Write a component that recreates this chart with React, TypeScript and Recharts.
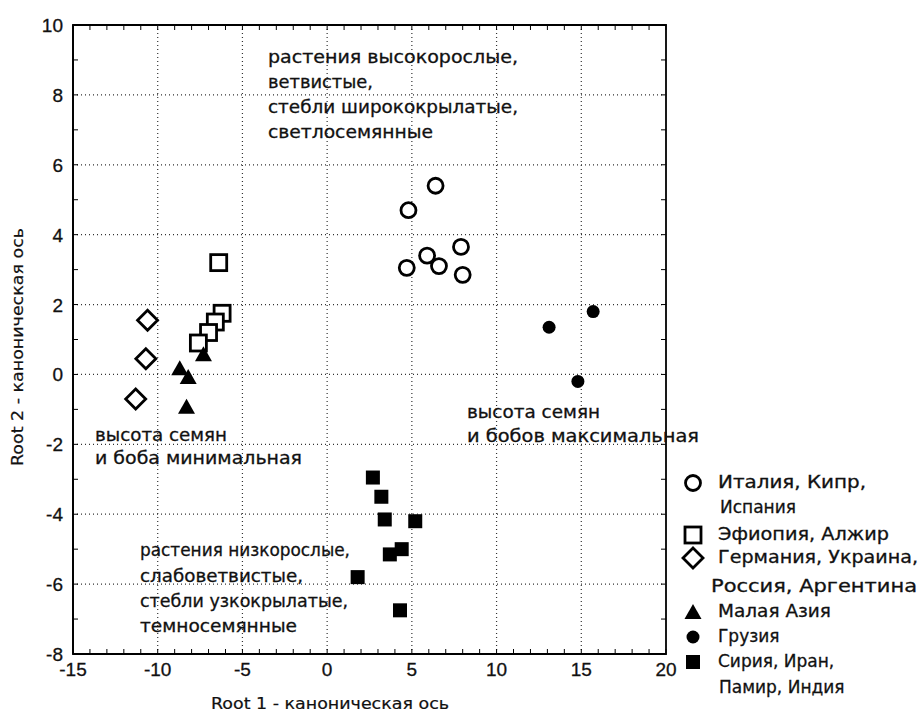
import { ScatterChart, Scatter, XAxis, YAxis, ReferenceLine, ReferenceArea } from 'recharts';

type Pt = { x: number; y: number };

// canonical scores
const italy: Pt[] = [
  { x: 6.4, y: 5.4 }, { x: 4.8, y: 4.7 }, { x: 4.7, y: 3.05 }, { x: 5.9, y: 3.4 },
  { x: 6.6, y: 3.1 }, { x: 7.9, y: 3.65 }, { x: 8.0, y: 2.85 },
];
const ethiopia: Pt[] = [
  { x: -6.4, y: 3.2 }, { x: -6.2, y: 1.75 }, { x: -6.6, y: 1.5 }, { x: -7.0, y: 1.2 }, { x: -7.6, y: 0.9 },
];
const germany: Pt[] = [{ x: -10.6, y: 1.55 }, { x: -10.7, y: 0.45 }, { x: -11.3, y: -0.7 }];
const asiaMinor: Pt[] = [{ x: -7.3, y: 0.55 }, { x: -8.7, y: 0.15 }, { x: -8.2, y: -0.1 }, { x: -8.3, y: -0.95 }];
const georgia: Pt[] = [{ x: 15.7, y: 1.8 }, { x: 13.1, y: 1.35 }, { x: 14.8, y: -0.2 }];
const syria: Pt[] = [
  { x: 2.7, y: -2.95 }, { x: 3.2, y: -3.5 }, { x: 3.4, y: -4.15 }, { x: 5.2, y: -4.2 },
  { x: 3.7, y: -5.15 }, { x: 4.4, y: -5.0 }, { x: 1.8, y: -5.8 }, { x: 4.3, y: -6.75 },
];

const xTicks = [-15, -14, -13, -12, -11, -10, -9, -8, -7, -6, -5, -4, -3, -2, -1, 0, 1, 2, 3, 4, 5, 6, 7, 8, 9, 10, 11, 12, 13, 14, 15, 16, 17, 18, 19, 20];
const yTicks = [-8, -7, -6, -5, -4, -3, -2, -1, 0, 1, 2, 3, 4, 5, 6, 7, 8, 9, 10];
const xGrid = [-10, -5, 0, 5, 10, 15];
const yGrid = [-6, -4, -2, 0, 2, 4, 6, 8];

const W = 920;
const H = 724;
const MARGIN = { top: 25, right: 254, bottom: 30, left: 23 };
const Y_AXIS_W = 50;
const X_AXIS_H = 40;
const PLOT_W = W - MARGIN.left - MARGIN.right - Y_AXIS_W;
const PLOT_H = H - MARGIN.top - MARGIN.bottom - X_AXIS_H;

const FONT = '"DejaVu Sans", Verdana, sans-serif';
const TICK_FONT = '"Liberation Sans", Arial, sans-serif';
const INK = '#111';

// marker shapes
const openCircle = (cx: number, cy: number) => (
  <circle cx={cx} cy={cy} r={7.5} fill="#fff" stroke="#000" strokeWidth={2.8} />
);
const openSquare = (cx: number, cy: number) => (
  <rect x={cx - 8} y={cy - 8} width={16} height={16} fill="#fff" stroke="#000" strokeWidth={2.8} />
);
const openDiamond = (cx: number, cy: number) => (
  <polygon points={`${cx},${cy - 10} ${cx + 10},${cy} ${cx},${cy + 10} ${cx - 10},${cy}`}
    fill="#fff" stroke="#000" strokeWidth={2.8} />
);
const triangle = (cx: number, cy: number) => (
  <polygon points={`${cx},${cy - 9} ${cx + 8.5},${cy + 6} ${cx - 8.5},${cy + 6}`} fill="#000" />
);
const dot = (cx: number, cy: number) => <circle cx={cx} cy={cy} r={6.5} fill="#000" />;
const filledSquare = (cx: number, cy: number) => (
  <rect x={cx - 7} y={cy - 7} width={14} height={14} fill="#000" />
);

const asShape = (fn: (cx: number, cy: number) => JSX.Element) => (p: any) => fn(p.cx, p.cy);

function XTick(props: any) {
  const { x, y, payload } = props;
  const v = payload.value as number;
  return (
    <g>
      <line x1={x} x2={x} y1={y} y2={y - 5} stroke="#000" />
      <line x1={x} x2={x} y1={y - PLOT_H} y2={y - PLOT_H + 5} stroke="#000" />
      {v % 5 === 0 && (
        <text x={x} y={y + 22} textAnchor="middle" fontSize={19} fontFamily={TICK_FONT}
          fill={INK} stroke={INK} strokeWidth={0.3}>{v}</text>
      )}
    </g>
  );
}

function YTick(props: any) {
  const { x, y, payload } = props;
  const v = payload.value as number;
  return (
    <g>
      <line x1={x} x2={x + 5} y1={y} y2={y} stroke="#000" />
      <line x1={x + PLOT_W} x2={x + PLOT_W - 5} y1={y} y2={y} stroke="#000" />
      {v % 2 === 0 && (
        <text x={x - 10} y={y + 7} textAnchor="end" fontSize={19} fontFamily={TICK_FONT}
          fill={INK} stroke={INK} strokeWidth={0.3}>{v}</text>
      )}
    </g>
  );
}

function T({ x, y, w, children }: { x: number; y: number; w?: number; children: string }) {
  return (
    <text x={x} y={y} textLength={w} lengthAdjust={w ? 'spacingAndGlyphs' : undefined} fontSize={17}
      fontFamily={FONT} fill={INK} stroke={INK} strokeWidth={0.3}>
      {children}
    </text>
  );
}

function Overlay() {
  const mx = 693;
  const tx = 718;
  return (
    <svg width={W} height={H} style={{ position: 'absolute', left: 0, top: 0, pointerEvents: 'none' }}>
      <T x={268} y={63} w={250}>растения высокорослые,</T>
      <T x={268} y={88} w={105}>ветвистые,</T>
      <T x={268} y={113} w={250}>стебли ширококрылатые,</T>
      <T x={268} y={138} w={165}>светлосемянные</T>

      <T x={95} y={441} w={132}>высота семян</T>
      <T x={95} y={464} w={207}>и боба минимальная</T>

      <T x={467} y={418} w={133}>высота семян</T>
      <T x={467} y={442} w={232}>и бобов максимальная</T>

      <T x={140} y={556} w={210}>растения низкорослые,</T>
      <T x={140} y={582} w={163}>слабоветвистые,</T>
      <T x={140} y={607} w={208}>стебли узкокрылатые,</T>
      <T x={140} y={632} w={157}>темносемянные</T>

      {openCircle(mx, 483)}
      <T x={tx} y={488} w={148}>Италия, Кипр,</T>
      <T x={tx + 2} y={513}>Испания</T>
      {openSquare(mx, 535)}
      <T x={tx} y={540} w={171}>Эфиопия, Алжир</T>
      {openDiamond(mx, 558)}
      <T x={tx} y={563} w={200}>Германия, Украина,</T>
      <T x={tx - 7} y={592} w={206}>Россия, Аргентина</T>
      {triangle(mx, 613)}
      <T x={tx} y={617} w={113}>Малая Азия</T>
      {dot(mx, 637)}
      <T x={tx} y={642}>Грузия</T>
      {filledSquare(mx, 662)}
      <T x={tx} y={667}>Сирия, Иран,</T>
      <T x={tx + 1} y={693}>Памир, Индия</T>

      <text x={330} y={709} textAnchor="middle" textLength={238} lengthAdjust="spacingAndGlyphs"
        fontSize={15} fontFamily={FONT} fill={INK} stroke={INK} strokeWidth={0.2}>Root 1 - каноническая ось</text>
      <text transform="translate(23,347) rotate(-90)" textAnchor="middle" textLength={238}
        lengthAdjust="spacingAndGlyphs" fontSize={15} fontFamily={FONT} fill={INK} stroke={INK}
        strokeWidth={0.2}>Root 2 - каноническая ось</text>
    </svg>
  );
}

export default function App() {
  return (
    <div style={{ position: 'absolute', left: 0, top: 0, width: W, height: H, background: '#fff' }}>
      <ScatterChart width={W} height={H} margin={MARGIN}>
        <XAxis type="number" dataKey="x" domain={[-15, 20]} ticks={xTicks} interval={0}
          allowDataOverflow height={X_AXIS_H} tickSize={0} tickMargin={0} tickLine={false}
          axisLine={{ stroke: '#000', strokeWidth: 1.8 }} tick={<XTick />} />
        <YAxis type="number" dataKey="y" domain={[-8, 10]} ticks={yTicks} interval={0}
          allowDataOverflow width={Y_AXIS_W} tickSize={0} tickMargin={0} tickLine={false}
          axisLine={{ stroke: '#000', strokeWidth: 1.8 }} tick={<YTick />} />
        {xGrid.map((v) => (
          <ReferenceLine key={`gx${v}`} x={v} stroke="#333" strokeWidth={1.2} strokeDasharray="1 3" />
        ))}
        {yGrid.map((v) => (
          <ReferenceLine key={`gy${v}`} y={v} stroke="#333" strokeWidth={1.2} strokeDasharray="1 3" />
        ))}
        <ReferenceArea x1={-15} x2={20} y1={-8} y2={10} fill="none" fillOpacity={0}
          stroke="#000" strokeWidth={1.8} />
        <Scatter name="Италия, Кипр, Испания" data={italy} shape={asShape(openCircle)} isAnimationActive={false} />
        <Scatter name="Эфиопия, Алжир" data={ethiopia} shape={asShape(openSquare)} isAnimationActive={false} />
        <Scatter name="Германия, Украина, Россия, Аргентина" data={germany} shape={asShape(openDiamond)} isAnimationActive={false} />
        <Scatter name="Малая Азия" data={asiaMinor} shape={asShape(triangle)} isAnimationActive={false} />
        <Scatter name="Грузия" data={georgia} shape={asShape(dot)} isAnimationActive={false} />
        <Scatter name="Сирия, Иран, Памир, Индия" data={syria} shape={asShape(filledSquare)} isAnimationActive={false} />
      </ScatterChart>
      <Overlay />
    </div>
  );
}
